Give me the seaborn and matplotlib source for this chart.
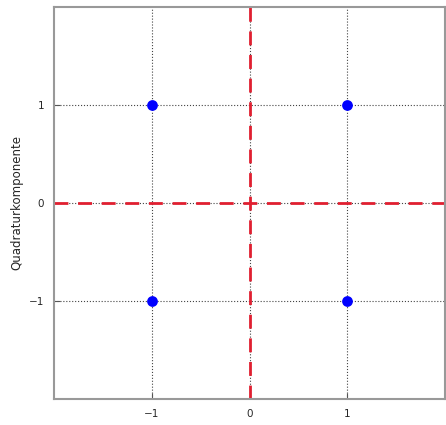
import numpy as np
import pandas as pd
import matplotlib
matplotlib.use('Agg')
import matplotlib.pyplot as plt
import seaborn as sns

# QPSK constellation points
inphase = [-1, 1, -1, 1]
quadrature = [1, 1, -1, -1]
tick_vals = [-1, 0, 1]
tick_labels = ['\u22121', '0', '1']

df = pd.DataFrame({'I': inphase, 'Q': quadrature})

sns.set_style('white')
plt.rcParams['font.family'] = ['DejaVu Sans']

fig = plt.figure(figsize=(4.46, 4.25), dpi=100)
ax = fig.add_axes([54 / 446, 26 / 425, 391 / 446, 392 / 425])

# Axes through the origin
ax.axvline(0, color='#e01f30', linestyle=(0, (5, 3.5)), linewidth=2, zorder=2)
ax.axhline(0, color='#e01f30', linestyle=(0, (5, 3.5)), linewidth=2, zorder=2)

sns.scatterplot(data=df, x='I', y='Q', ax=ax, color='#0000ff', s=60,
                edgecolor='#0000ff', linewidth=0, zorder=3)

ax.set_xlim(-2, 2)
ax.set_ylim(-2, 2)
ax.set_xticks(tick_vals)
ax.set_xticklabels(tick_labels)
ax.set_yticks(tick_vals)
ax.set_yticklabels(tick_labels)
ax.grid(True, linestyle=':', color='#444444', linewidth=0.8)
ax.set_axisbelow(True)
ax.tick_params(direction='in', length=4, labelsize=7.5, color='#555555',
               bottom=True, left=True, pad=7)
for sp in ax.spines.values():
    sp.set_color('#999999')
    sp.set_linewidth(1.5)

ax.set_xlabel('')
ax.set_ylabel('Quadraturkomponente', fontsize=8.5)
ax.yaxis.set_label_coords(-0.078, 0.5)

fig.savefig('out.png', dpi=100)
